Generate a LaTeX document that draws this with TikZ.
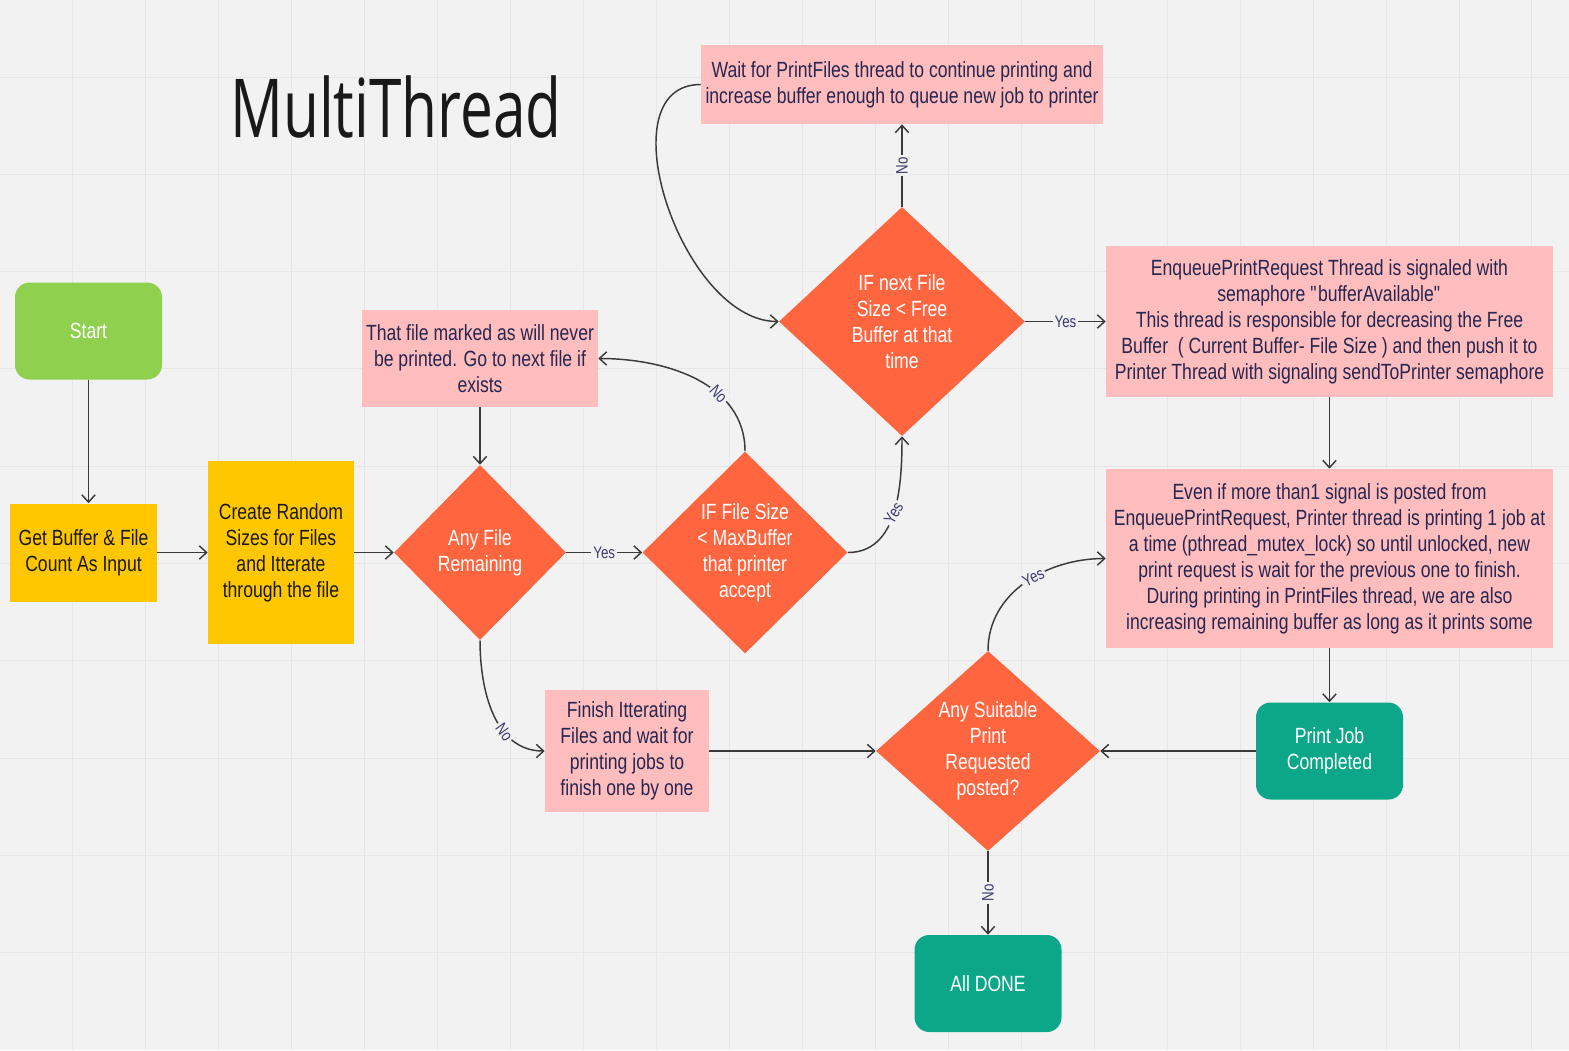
\documentclass[tikz,border=0pt]{standalone}
\usepackage{fontspec}
\setmainfont[FakeStretch=0.8]{Liberation Sans}
\newfontfamily\titlefont[FakeStretch=0.72]{Open Sans}
\usepackage{tikz}
\usetikzlibrary{shapes.geometric}
\usetikzlibrary{arrows.meta}

\definecolor{canvas}{HTML}{F2F2F2}
\definecolor{gridgray}{HTML}{E6E6E6}
\definecolor{startgreen}{HTML}{8FD14F}
\definecolor{inputyellow}{HTML}{FFC700}
\definecolor{notepink}{HTML}{FFBDBD}
\definecolor{testorange}{HTML}{FF6640}
\definecolor{endteal}{HTML}{0CA789}
\definecolor{inktext}{HTML}{262650}
\definecolor{labelink}{HTML}{3A3A6E}
\definecolor{wire}{HTML}{3A3A3A}

\tikzset{
  boxtext/.style={font=\fontsize{16.5}{19.5}\selectfont, align=center, inner sep=0pt},
  terminal/.style={boxtext, rectangle, rounded corners=11pt, text=white, minimum width=110.25pt, minimum height=72.75pt},
  inputbox/.style={boxtext, rectangle, fill=inputyellow, text=black!90},
  notebox/.style={boxtext, rectangle, fill=notepink, text=inktext},
  testbox/.style={boxtext, diamond, fill=testorange, text=white},
  flowline/.style={draw=wire, line width=1.1pt, -{Straight Barb[length=5.5pt,width=10pt]}},
  flowlabel/.style={font=\fontsize{12.5}{14}\selectfont, text=labelink, fill=canvas, inner sep=1.5pt},
}

\begin{document}
\begin{tikzpicture}[x=0.75pt,y=0.75pt,yscale=-1,xscale=1]
%set diagram to the size of the board: 1569 x 1050
\path[use as bounding box] (0,0) rectangle (1569,1050);
\fill[canvas] (0,0) rectangle (1569,1050);
%Grid
\foreach \i in {1,...,21} \draw[gridgray, line width=0.75pt] (\i*72.95,0) -- (\i*72.95,1050);
\foreach \j in {1,...,10} \draw[gridgray, line width=0.75pt] (0,-20.3+\j*97.3) -- (1569,-20.3+\j*97.3);

% Text Node
\node[anchor=base west, inner sep=0pt, font=\titlefont\fontsize{61}{70}\selectfont, text=black!90] (title) at (230,137) {MultiThread};

%Shape: Rounded Rect
\node[terminal, fill=startgreen] (start) at (88.5,331) {Start};
%Shape: Rectangle
\node[inputbox, minimum width=110.25pt, minimum height=73.5pt] (input) at (83.5,552.5) {Get Buffer \& File\\Count As Input};
\node[inputbox, minimum width=109.5pt, minimum height=137.25pt] (random) at (281,552.5) {Create Random\\Sizes for Files\\and Itterate\\through the file};
\node[notebox, minimum width=177pt, minimum height=72.75pt] (skip) at (480,358.5) {That file marked as will never\\be printed. Go to next file if\\exists};
%Shape: Diamond
\node[testbox, minimum width=129pt, minimum height=131.25pt] (anyfile) at (480,552.5) {Any File\\Remaining};
\node[testbox, minimum width=153.75pt, minimum height=151.5pt] (fits) at (745,552.5) {IF File Size\\< MaxBuffer\\that printer\\accept};
\node[testbox, minimum width=184.5pt, minimum height=171.75pt] (freebuf) at (902,321.5) {IF next File\\Size < Free\\Buffer at that\\time};
%Shape: Rectangle
\node[notebox, minimum width=301.5pt, minimum height=59.25pt] (wait) at (902,84.5) {Wait for PrintFiles thread to continue printing and\\increase buffer enough to queue new job to printer};
\node[notebox, minimum width=335.25pt, minimum height=113.25pt] (enqueue) at (1329.5,321.5) {EnqueuePrintRequest Thread is signaled with\\semaphore \textquotedbl bufferAvailable\textquotedbl\\This thread is responsible for decreasing the Free\\Buffer~ ( Current Buffer- File Size ) and then push it to\\Printer Thread with signaling sendToPrinter semaphore};
\node[notebox, minimum width=335.25pt, minimum height=134.25pt] (printer) at (1329.5,558.5) {Even if more than1 signal is posted from\\EnqueuePrintRequest, Printer thread is printing 1 job at\\a time (pthread\_mutex\_lock) so until unlocked, new\\print request is wait for the previous one to finish.\\During printing in PrintFiles thread, we are also\\increasing remaining buffer as long as it prints some};
\node[notebox, minimum width=123pt, minimum height=91.5pt] (finish) at (627,751) {Finish Itterating\\Files and wait for\\printing jobs to\\finish one by one};
%Shape: Diamond
\node[testbox, minimum width=168pt, minimum height=150pt] (anyjob) at (988,751) {Any Suitable\\Print\\Requested\\posted?};
%Shape: Rounded Rect
\node[terminal, fill=endteal] (done) at (1329.5,751) {Print Job\\Completed};
\node[terminal, fill=endteal] (alldone) at (988,983.5) {All DONE};

%Straight Lines
\draw[flowline] (start.south) -- (start.south |- input.north);
\draw[flowline] (input) -- (random);
\draw[flowline] (random) -- (anyfile);
\draw[flowline] (anyfile) -- node[flowlabel] {Yes} (fits);
\draw[flowline] (skip) -- (anyfile);
\draw[flowline] (freebuf) -- node[flowlabel, rotate=90] {No} (wait);
\draw[flowline] (freebuf) -- node[flowlabel] {Yes} (enqueue);
\draw[flowline] (enqueue) -- (printer);
\draw[flowline] (printer) -- (done);
\draw[flowline] (done) -- (anyjob);
\draw[flowline] (finish) -- (anyjob);
\draw[flowline] (anyjob) -- node[flowlabel, rotate=90] {No} (alldone);
%Curve Lines (y axis is flipped, so "up" is -90)
\draw[flowline] (fits.north) to[out=-90, in=0] node[flowlabel, rotate=-48, pos=0.36] {No} (skip.east);
\draw[flowline] (fits.east) to[out=0, in=90] node[flowlabel, rotate=60, pos=0.5] {Yes} (freebuf.south);
\draw[flowline] (wait.west) to[out=180, in=180] (freebuf.west);
\draw[flowline] (anyjob.north) to[out=-90, in=180] node[flowlabel, rotate=26, pos=0.56] {Yes} (printer.west);
\draw[flowline] (anyfile.south) to[out=90, in=180] node[flowlabel, rotate=-54, pos=0.65] {No} (finish.west);

\end{tikzpicture}
\end{document}
